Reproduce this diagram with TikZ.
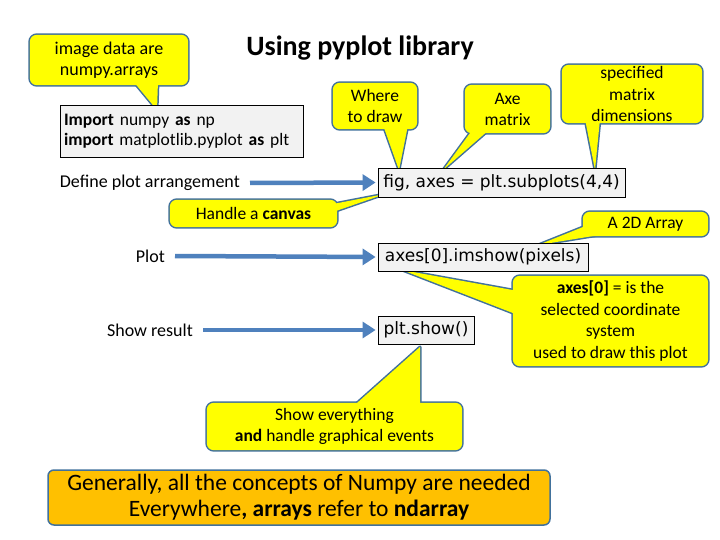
\documentclass[tikz,border=0pt]{standalone}
\usepackage{fontspec}
\setmainfont{Carlito}
\newfontfamily\codefont{DejaVu Sans}
\usetikzlibrary{arrows.meta,backgrounds}
\definecolor{cyel}{HTML}{FFFF00}
\definecolor{cbord}{HTML}{41719C}
\definecolor{arrblue}{HTML}{4F81BD}
\definecolor{codegray}{HTML}{F2F2F2}
\definecolor{orng}{HTML}{FFC000}
\newcommand\mycallout[4]{%
 \begin{pgfonlayer}{background}
  \draw[cbord, line width=3pt, rounded corners=7pt] (#1.south west) rectangle (#1.north east);
  \draw[cbord, line width=3pt, line join=round] #3 -- #2 -- #4 -- cycle;
  \fill[cyel, rounded corners=7pt] (#1.south west) rectangle (#1.north east);
  \fill[cyel] #3 -- #2 -- #4 -- cycle;
 \end{pgfonlayer}}
\tikzset{
 ctext/.style={align=center, inner sep=0pt, font=\fontsize{17.5}{21}\selectfont},
 lbl/.style={inner sep=0pt, font=\fontsize{18}{21}\selectfont, anchor=east},
 codebox/.style={draw=black, fill=codegray, line width=0.8pt, inner sep=0pt, font=\codefont\fontsize{17}{20}\selectfont},
 barrow/.style={arrblue, line width=4.5pt, -{Triangle[length=13pt,width=16pt]}, shorten >=2pt}
}
\begin{document}
\begin{tikzpicture}[x=1pt, y=-1pt]
\useasboundingbox (0,0) rectangle (720,540);
\begin{pgfonlayer}{background}
\fill[white] (0,0) rectangle (720,540);
\end{pgfonlayer}

\node[font=\bfseries\fontsize{28}{32}\selectfont] (title) at (360,48) {Using pyplot library};

% import box
\node[draw=black, fill=codegray, line width=0.8pt, text width=235pt, inner xsep=4pt, inner ysep=0pt,
      minimum height=52pt, align=left, font=\fontsize{17.5}{20}\selectfont] (imp) at (181.5,131)
 {{\bfseries Import} numpy {\bfseries as} np\\{\bfseries import} matplotlib.pyplot {\bfseries as} plt};

% code boxes
\node[codebox, minimum width=247pt, minimum height=29pt] (fig) at (501.5,182.5) {fig, axes = plt.subplots(4,4)};
\node[codebox, minimum width=210pt, minimum height=28pt] (ims) at (483,257) {axes[0].imshow(pixels)};
\node[codebox, minimum width=96pt, minimum height=28pt] (shw) at (426,330) {plt.show()};

% labels and arrows
\node[lbl] (ldef) at (240,183) {Define plot arrangement};
\node[lbl] (lplot) at (165,256) {Plot};
\node[lbl] (lshow) at (193,330) {Show result};
\draw[barrow] ([xshift=10pt]ldef.east) -- (fig.west);
\draw[barrow] ([xshift=10pt]lplot.east) -- (ims.west);
\draw[barrow] ([xshift=10pt]lshow.east) -- (shw.west);

% callouts
\node[ctext, font=\fontsize{18}{21}\selectfont, minimum width=158pt, minimum height=50pt] (img) at (109,60) {image data are\\numpy.arrays};
\mycallout{img}{(157,110)}{(133,81)}{(158,81)}

\node[ctext, minimum width=84pt, minimum height=46pt] (where) at (375,106) {Where\\to draw};
\mycallout{where}{(399,170)}{(383,125)}{(408,125)}

\node[ctext, minimum width=85pt, minimum height=48pt] (axe) at (507.5,109) {Axe\\matrix};
\mycallout{axe}{(443,170)}{(473,129)}{(490,129)}

\node[ctext, font=\fontsize{17.5}{21.5}\selectfont, minimum width=140pt, minimum height=58pt] (spec) at (632,94) {specified\\matrix\\dimensions};
\mycallout{spec}{(595,170)}{(585,119)}{(600,119)}

\node[ctext, font=\fontsize{17.5}{21}\selectfont, minimum width=167pt, minimum height=27pt] (canv) at (253.5,213.5) {Handle a {\bfseries canvas}};
\mycallout{canv}{(385,194)}{(333,204)}{(333,212)}

\node[ctext, minimum width=125pt, minimum height=24pt] (arr) at (645.5,224) {A 2D Array};
\mycallout{arr}{(538,245)}{(588,225)}{(600,234.9)}

\node[ctext, font=\fontsize{17.5}{21.7}\selectfont, minimum width=195pt, minimum height=90pt] (ax0) at (610.5,321) {{\bfseries axes[0]} = is the\\selected coordinate\\system\\used to draw this plot};
\mycallout{ax0}{(402,270)}{(518,291)}{(518,315)}

\node[ctext, font=\fontsize{17.5}{21}\selectfont, minimum width=255pt, minimum height=47pt] (sev) at (334.5,426.5) {Show everything\\{\bfseries and} handle graphical events};
\mycallout{sev}{(420,347)}{(352.5,407)}{(420,407)}

% bottom box
\node[draw=cbord, fill=orng, rounded corners=6pt, line width=1.5pt, minimum width=502pt, minimum height=55pt,
      inner sep=0pt, align=center, font=\fontsize{23.5}{26}\selectfont] (gen) at (299,497.5)
 {Generally, all the concepts of Numpy are needed\\Everywhere{\bfseries ,} {\bfseries arrays} refer to {\bfseries ndarray}};
\end{tikzpicture}
\end{document}
